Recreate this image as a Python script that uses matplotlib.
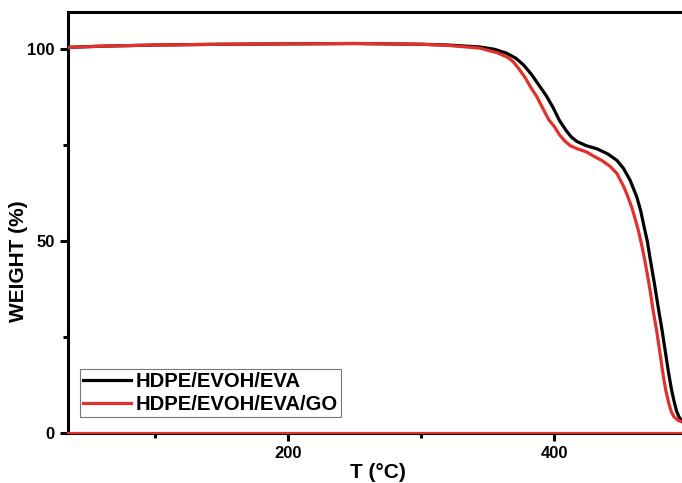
import matplotlib
matplotlib.use("Agg")
import matplotlib.pyplot as plt
from matplotlib.ticker import FixedLocator

plt.rcParams['font.family'] = ['Liberation Sans', 'DejaVu Sans']
plt.rcParams['font.weight'] = 'bold'

# Data
temp_black = [35, 60, 100, 150, 200, 250, 300, 320, 344, 355, 364, 371, 377, 383, 389,
              394, 399, 404, 409, 413, 417, 424, 432, 440, 447, 452, 457, 462, 465, 467,
              470, 472, 475, 478, 481, 484, 486, 488, 490, 492, 494, 496]
weight_black = [100.4, 100.7, 101.0, 101.2, 101.3, 101.4, 101.2, 101.0, 100.5, 99.9, 98.9,
                97.6, 95.8, 93.3, 90.3, 87.8, 84.8, 81.3, 78.7, 77.0, 75.9, 74.8, 74.0,
                72.7, 71.0, 68.9, 65.8, 61.5, 57.8, 54.5, 49.8, 45.5, 39.5, 33.0, 26.8,
                20.0, 15.5, 11.5, 8.3, 5.6, 4.0, 3.2]

temp_red = [35, 60, 100, 150, 200, 250, 300, 320, 344, 357, 365, 369, 373, 378, 382, 387,
            392, 396, 400, 404, 408, 412, 418, 424, 430, 436, 442, 447, 452, 455, 458, 460,
            463, 466, 468, 470, 472, 474, 477, 480, 482, 484, 486, 488, 490, 493, 496]
weight_red = [100.4, 100.7, 101.0, 101.2, 101.3, 101.4, 101.2, 100.9, 100.2, 99.0, 97.8,
              96.7, 95.0, 92.6, 90.2, 87.5, 84.1, 81.5, 79.8, 77.6, 76.0, 74.8, 73.9, 73.2,
              72.0, 70.9, 69.4, 67.6, 64.3, 61.8, 59.0, 56.7, 53.0, 48.5, 45.0, 41.2, 37.2,
              32.5, 26.5, 19.5, 14.7, 10.8, 7.8, 5.5, 4.2, 3.3, 2.9]

labels = ["HDPE/EVOH/EVA", "HDPE/EVOH/EVA/GO"]
x_ticks = [200, 400]
x_minor = [100, 300]
y_ticks = [0, 50, 100]
y_minor = [25, 75]

fig = plt.figure(figsize=(6.82, 4.83), dpi=100)
ax = fig.add_axes([68/682, 1-433/483, 1-68/682, (433-12)/483])

red = '#e3302a'
ax.plot(temp_black, weight_black, color='black', lw=2.3, label=labels[0], zorder=3,
        solid_joinstyle='round')
ax.plot(temp_red, weight_red, color=red, lw=2.3, label=labels[1], zorder=4,
        solid_joinstyle='round')
ax.axhline(0, color=red, lw=1.5, zorder=5, clip_on=False)

ax.set_xlim(34.6, 496)
ax.set_ylim(0, 109.6)

ax.xaxis.set_major_locator(FixedLocator(x_ticks))
ax.xaxis.set_minor_locator(FixedLocator(x_minor))
ax.yaxis.set_major_locator(FixedLocator(y_ticks))
ax.yaxis.set_minor_locator(FixedLocator(y_minor))

for s in ['left', 'bottom', 'top']:
    ax.spines[s].set_linewidth(2.2)
ax.spines['right'].set_visible(False)

ax.tick_params(which='major', direction='out', length=6, width=2.2, labelsize=12, pad=3.5)
ax.tick_params(which='minor', direction='out', length=3.6, width=2.2)
ax.tick_params(top=False, right=False)
for lab in ax.get_xticklabels() + ax.get_yticklabels():
    lab.set_fontweight('bold')

ax.set_xlabel("T (°C)", fontsize=15, fontweight='bold')
ax.set_ylabel("WEIGHT (%)", fontsize=15, fontweight='bold')
ax.xaxis.set_label_coords((378-68)/614, (433-463)/421)
ax.yaxis.set_label_coords((28-68)/614, (433-261)/421)

leg = ax.legend(loc='lower left', bbox_to_anchor=((80-68)/614, (433-417)/421), fontsize=14.6,
                frameon=True, fancybox=False, edgecolor='#555555', handlelength=2.35,
                handletextpad=0.25, borderpad=0.15, labelspacing=0.18, borderaxespad=0)
leg.get_frame().set_linewidth(0.8)
for t in leg.get_texts():
    t.set_fontweight('bold')

fig.savefig("out.png", dpi=100)
